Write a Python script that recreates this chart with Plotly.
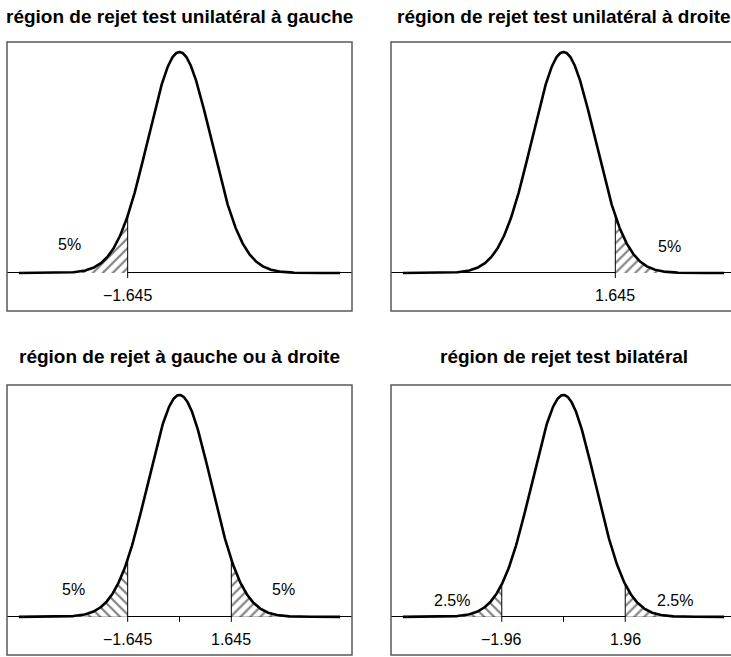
import numpy as np
import plotly.graph_objects as go
from plotly.subplots import make_subplots

# ---- content -------------------------------------------------------------
titles = [
    "région de rejet test unilatéral à gauche",
    "région de rejet test unilatéral à droite",
    "région de rejet à gauche ou à droite",
    "région de rejet test bilatéral",
]
critical_values = [[-1.645], [1.645], [-1.645, 1.645], [-1.96, 1.96]]
tick_labels = [["−1.645"], ["1.645"], ["−1.645", "1.645"], ["−1.96", "1.96"]]
tail_labels = [["5%"], ["5%"], ["5%", "5%"], ["2.5%", "2.5%"]]
center_tick = [False, False, True, True]
z_span = 5.1  # extent of the drawn density curve

# ---- styling / placement -------------------------------------------------
W, H = 731, 657
FONT = "Liberation Sans, Arial, Helvetica, sans-serif"
# panel frames in pixels: (left, right, top, bottom)
frames = [(7, 352, 42, 311), (391, 736, 42, 311), (7, 352, 385, 655), (391, 736, 385, 655)]
title_y = [16, 16, 356, 356]
px_per_unit = 31.5
y_range = [-0.0686, 0.4169]
tick_px = 5
hatch_shapes = [["/"], ["/"], ["\\", "/"], ["\\", "/"]]
tail_label_pos = [[(-3.48, 28)], [(3.38, 26)], [(-3.38, 27), (3.29, 27)], [(-3.54, 16), (3.54, 16)]]


def pdf(z):
    return np.exp(-0.5 * z ** 2) / np.sqrt(2 * np.pi)


fig = make_subplots(rows=2, cols=2)
annotations = []
shapes = []

for i in range(4):
    row, col = i // 2 + 1, i % 2 + 1
    xa = "x" if i == 0 else f"x{i + 1}"
    ya = "y" if i == 0 else f"y{i + 1}"
    x0, x1, top, bot = frames[i]
    height_px = bot - top
    tick_len = tick_px * (y_range[1] - y_range[0]) / height_px

    # shaded rejection regions
    for c, shape in zip(critical_values[i], hatch_shapes[i]):
        if c < 0:
            zs = np.linspace(-z_span, c, 200)
        else:
            zs = np.linspace(c, z_span, 200)
        fig.add_trace(go.Scatter(
            x=zs, y=pdf(zs), mode="lines", line=dict(width=0, color="black"),
            fill="tozeroy", fillcolor="white",
            fillpattern=dict(shape=shape, fgcolor="black", bgcolor="white", size=7, solidity=0.3),
            hoverinfo="skip", showlegend=False), row=row, col=col)
        # boundary of the region, extended below the axis as a tick
        fig.add_trace(go.Scatter(
            x=[c, c], y=[-tick_len, pdf(c)], mode="lines",
            line=dict(color="black", width=1), hoverinfo="skip", showlegend=False),
            row=row, col=col)

    if center_tick[i]:
        fig.add_trace(go.Scatter(
            x=[0, 0], y=[-tick_len, 0], mode="lines",
            line=dict(color="black", width=1), hoverinfo="skip", showlegend=False),
            row=row, col=col)

    # density curve
    zs = np.linspace(-z_span, z_span, 600)
    fig.add_trace(go.Scatter(
        x=zs, y=pdf(zs), mode="lines", line=dict(color="black", width=2.6),
        hoverinfo="skip", showlegend=False), row=row, col=col)

    # axes
    cx = (x0 + x1) / 2
    vis_right = min(x1, W)
    xr = [(x0 - cx) / px_per_unit, (vis_right - cx) / px_per_unit]
    fig.update_xaxes(range=xr, domain=[x0 / W, vis_right / W],
                     showgrid=False, zeroline=False, showticklabels=False, ticks="",
                     showline=False, row=row, col=col)
    fig.update_yaxes(range=y_range, domain=[1 - bot / H, 1 - top / H],
                     showgrid=False, zeroline=True, zerolinecolor="black", zerolinewidth=1,
                     showticklabels=False, ticks="", showline=False,
                     row=row, col=col)

    # panel frame (may run past the right edge of the page)
    shapes.append(dict(type="rect", xref=f"{xa} domain", yref=f"{ya} domain",
                       x0=0, x1=(x1 - x0) / (vis_right - x0), y0=0, y1=1,
                       line=dict(color="#5a5a5a", width=1.5), fillcolor="rgba(0,0,0,0)",
                       layer="above"))

    # tick labels under the axis
    for c, lab in zip(critical_values[i], tick_labels[i]):
        annotations.append(dict(x=c, y=0, xref=xa, yref=ya, text=lab, showarrow=False,
                                yshift=-23, xanchor="center", yanchor="middle",
                                font=dict(family=FONT, size=16, color="black")))
    # percentage labels
    for lab, (lx, ly) in zip(tail_labels[i], tail_label_pos[i]):
        annotations.append(dict(x=lx, y=0, xref=xa, yref=ya, text=lab, showarrow=False,
                                yshift=ly, xanchor="center", yanchor="middle",
                                font=dict(family=FONT, size=16, color="black")))
    # panel title
    annotations.append(dict(x=cx / W, y=1 - title_y[i] / H, xref="paper", yref="paper",
                            text=f"<b>{titles[i]}</b>", showarrow=False,
                            xanchor="center", yanchor="middle",
                            font=dict(family=FONT, size=19, color="black")))

fig.update_layout(width=W, height=H, margin=dict(l=0, r=0, t=0, b=0),
                  paper_bgcolor="white", plot_bgcolor="white",
                  annotations=annotations, shapes=shapes, showlegend=False)

fig.write_html("out.html")
